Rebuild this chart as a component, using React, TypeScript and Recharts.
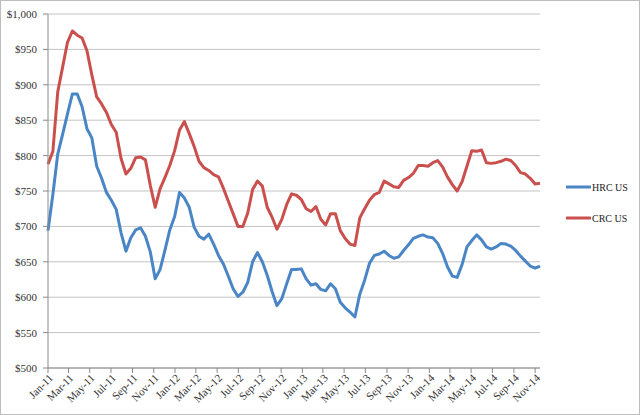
import { LineChart, Line, XAxis, YAxis, CartesianGrid, Legend } from 'recharts';

// fortnightly readings, Jan 2011 .. Nov 2014 ($/short ton)
const hrc = [
  694, 745, 802, 830, 859, 887, 887, 869, 838, 825,
  785, 768, 748, 737, 724, 691, 665, 684, 695, 698,
  686, 664, 626, 639, 666, 695, 714, 748, 740, 727,
  699, 686, 682, 689, 675, 659, 647, 630, 612, 601,
  607, 621, 650, 663, 650, 631, 608, 588, 598, 619,
  639, 639, 640, 626, 617, 619, 611, 609, 619, 612,
  593, 585, 579, 572, 604, 624, 648, 659, 661, 665,
  659, 655, 657, 666, 674, 683, 686, 688, 685, 684,
  676, 662, 643, 630, 628, 646, 671, 680, 688, 681,
  671, 668, 671, 676, 675, 672, 666, 658, 651, 644,
  641, 644,
];

const crc = [
  788, 806, 890, 925, 960, 976, 970, 966, 948, 914,
  883, 873, 861, 844, 833, 796, 774, 782, 797, 798,
  794, 758, 727, 753, 769, 786, 807, 836, 848, 831,
  813, 792, 783, 779, 773, 770, 754, 736, 718, 700,
  700, 719, 752, 764, 757, 727, 713, 696, 710, 731,
  746, 744, 738, 725, 721, 728, 710, 702, 718, 718,
  694, 683, 675, 673, 712, 725, 737, 745, 748, 764,
  760, 756, 755, 765, 769, 775, 786, 786, 785, 790,
  793, 784, 770, 759, 750, 763, 785, 807, 806, 808,
  790, 789, 790, 792, 795, 793, 786, 776, 774, 768,
  760, 761,
];

const seriesNames = ['HRC US', 'CRC US'];

const yTicks = [500, 550, 600, 650, 700, 750, 800, 850, 900, 950, 1000];

const xTickLabels = [
  'Jan-11', 'Mar-11', 'May-11', 'Jul-11', 'Sep-11', 'Nov-11',
  'Jan-12', 'Mar-12', 'May-12', 'Jul-12', 'Sep-12', 'Nov-12',
  'Jan-13', 'Mar-13', 'May-13', 'Jul-13', 'Sep-13', 'Nov-13',
  'Jan-14', 'Mar-14', 'May-14', 'Jul-14', 'Sep-14', 'Nov-14',
];

const monthNames = ['Jan', 'Feb', 'Mar', 'Apr', 'May', 'Jun', 'Jul', 'Aug', 'Sep', 'Oct', 'Nov', 'Dec'];
const START = Date.UTC(2011, 0, 1);
const DAY = 86400000;
const STEP_DAYS = 14;

const dayOf = (label: string) => {
  const [m, y] = label.split('-');
  return (Date.UTC(2000 + Number(y), monthNames.indexOf(m), 1) - START) / DAY;
};

const xTicks = xTickLabels.map(dayOf);
const labelByDay: Record<number, string> = {};
xTickLabels.forEach((l) => (labelByDay[dayOf(l)] = l));

const data = hrc.map((v, i) => ({ day: i * STEP_DAYS, hrc: v, crc: crc[i] }));

const FONT = '"Liberation Serif", "DejaVu Serif", serif';

function DateTick({ x, y, payload }: any) {
  return (
    <text
      x={x + 3}
      y={y + 1}
      dy="0.35em"
      textAnchor="end"
      transform={`rotate(-45 ${x + 3} ${y + 1})`}
      fontSize={11}
      fontFamily={FONT}
      fill="#333"
    >
      {labelByDay[payload.value]}
    </text>
  );
}

function SideLegend({ payload }: any) {
  const items = [...(payload || [])].sort(
    (a: any, b: any) => seriesNames.indexOf(a.value) - seriesNames.indexOf(b.value),
  );
  return (
    <div style={{ fontFamily: FONT, fontSize: 10, color: '#222' }}>
      {items.map((p: any) => (
        <div key={p.value} style={{ display: 'flex', alignItems: 'center', height: 16, marginBottom: 15 }}>
          <svg width={25} height={6} style={{ marginRight: 1 }}>
            <line x1={1} y1={3} x2={24} y2={3} stroke={p.color} strokeWidth={3} strokeLinecap="round" />
          </svg>
          <span>{p.value}</span>
        </div>
      ))}
    </div>
  );
}

export default function App() {
  return (
    <div
      style={{
        position: 'absolute',
        left: 0,
        top: 0,
        width: 640,
        height: 415,
        boxSizing: 'border-box',
        border: '1px solid #bdbdbd',
        background: '#fff',
      }}
    >
      <LineChart width={638} height={413} data={data} margin={{ top: 13, right: 99, left: 0, bottom: 0 }}>
        <CartesianGrid vertical={false} stroke="#c4c4c4" strokeWidth={1} />
        <XAxis
          type="number"
          dataKey="day"
          domain={[0, 1414]}
          ticks={xTicks}
          interval={0}
          height={46}
          tick={<DateTick />}
          tickSize={5}
          stroke="#8a8a8a"
        />
        <YAxis
          domain={[500, 1000]}
          ticks={yTicks}
          width={47}
          tickSize={5}
          tickMargin={6}
          stroke="#8a8a8a"
          tick={{ fontSize: 11, fontFamily: FONT, fill: '#333' }}
          tickFormatter={(v: number) => `$${v.toLocaleString('en-US')}`}
        />
        <Legend
          layout="horizontal"
          verticalAlign="middle"
          content={<SideLegend />}
          wrapperStyle={{ left: 565, top: 178, width: 72 }}
        />
        <Line
          name="HRC US"
          dataKey="hrc"
          stroke="#4a86c5"
          strokeWidth={3}
          dot={false}
          strokeLinejoin="round"
          isAnimationActive={false}
        />
        <Line
          name="CRC US"
          dataKey="crc"
          stroke="#c9504d"
          strokeWidth={3}
          dot={false}
          strokeLinejoin="round"
          isAnimationActive={false}
        />
      </LineChart>
    </div>
  );
}
